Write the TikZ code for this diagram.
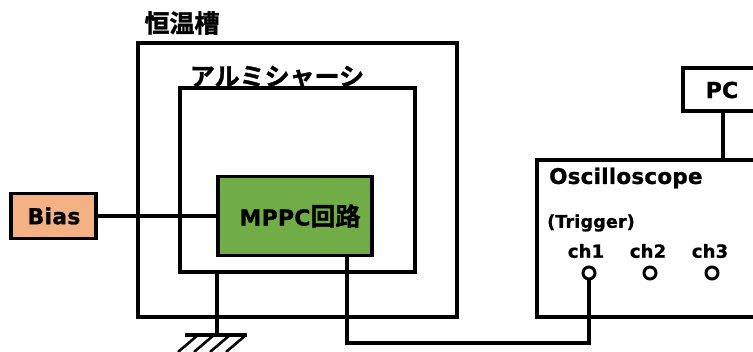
\documentclass[tikz,border=0pt]{standalone}
\usepackage{fontspec}
\setmainfont{DejaVu Sans}
\newfontfamily\jp{Noto Sans CJK JP Bold}[FakeBold=1.4]
\newfontfamily\lat{DejaVu Sans Bold}[LetterSpace=1,FakeBold=1]
\begin{document}
\begin{tikzpicture}[x=1pt,y=-1pt,
  wire/.style={line width=3.2pt},
  box/.style={draw, line width=3.2pt, inner sep=0pt, outer sep=0pt},
  lbl/.style={inner sep=0pt, font=\lat\fontsize{22}{26}\selectfont},
  small/.style={inner sep=0pt, font=\lat\fontsize{18}{22}\selectfont},
  ttl/.style={inner sep=0pt, font=\jp\fontsize{25}{29}\selectfont},
  port/.style={circle, draw, line width=3pt, minimum size=12pt, inner sep=0pt}]
\useasboundingbox (0,0) rectangle (753,352);
\clip (0,0) rectangle (753,352);
% boxes
\node[box, minimum width=319pt, minimum height=274pt] (outer) at (297.5,180) {};
\node[box, minimum width=235pt, minimum height=184pt] (inner) at (297.5,180) {};
\node[box, fill={rgb,255:red,112;green,173;blue,71}, minimum width=154pt, minimum height=79pt] (mppc) at (295,216) {};
\node[box, fill={rgb,255:red,244;green,177;blue,131}, minimum width=85pt, minimum height=45pt] (bias) at (53.5,216) {};
\node[box, minimum width=233pt, minimum height=157pt] (osc) at (653.5,238.5) {};
\node[box, minimum width=87pt, minimum height=43pt] (pc) at (726.5,89.5) {};
% labels
\node[ttl] (tlab) at (182,23) {恒温槽};
\node[ttl] (alab) at (277,77) {アルミシャーシ};
\node[lbl] (mlab) at (300,216) {MPPC{\jp\fontsize{25}{29}\selectfont 回路}};
\node[lbl] (blab) at (54,216) {Bias};
\node[lbl] (plab) at (722,90) {PC};
\node[lbl, anchor=west, font=\lat\fontsize{21.5}{25}\selectfont] (olab) at (549,178) {Oscilloscope};
\node[small, anchor=west, font=\lat\fontsize{17.5}{21}\selectfont] (trig) at (547,223) {(Trigger)};
\node[small] (ch1) at (586,251) {ch1};
\node[small] (ch2) at (648,251) {ch2};
\node[small] (ch3) at (710,251) {ch3};
\node[port] (c1) at (589,273) {};
\node[port] (c2) at (650,273) {};
\node[port] (c3) at (712,273) {};
% connectors
\draw[wire] (bias.east) -- (mppc.west);
\draw[wire] (pc.south -| 723,0) -- (osc.north -| 723,0);
\coordinate (gnd) at (217,335);
\coordinate (bend1) at (347,343);
\draw[wire] (inner.south -| gnd) -- (gnd);
\draw[wire] (185,335) -- (247,335);
\foreach \x in {198,214,230,246}
  \draw[line width=2.6pt] (\x,335) -- (\x-20,352);
\draw[wire] (mppc.south -| bend1) -- (bend1) -| (c1.south);
\end{tikzpicture}
\end{document}
